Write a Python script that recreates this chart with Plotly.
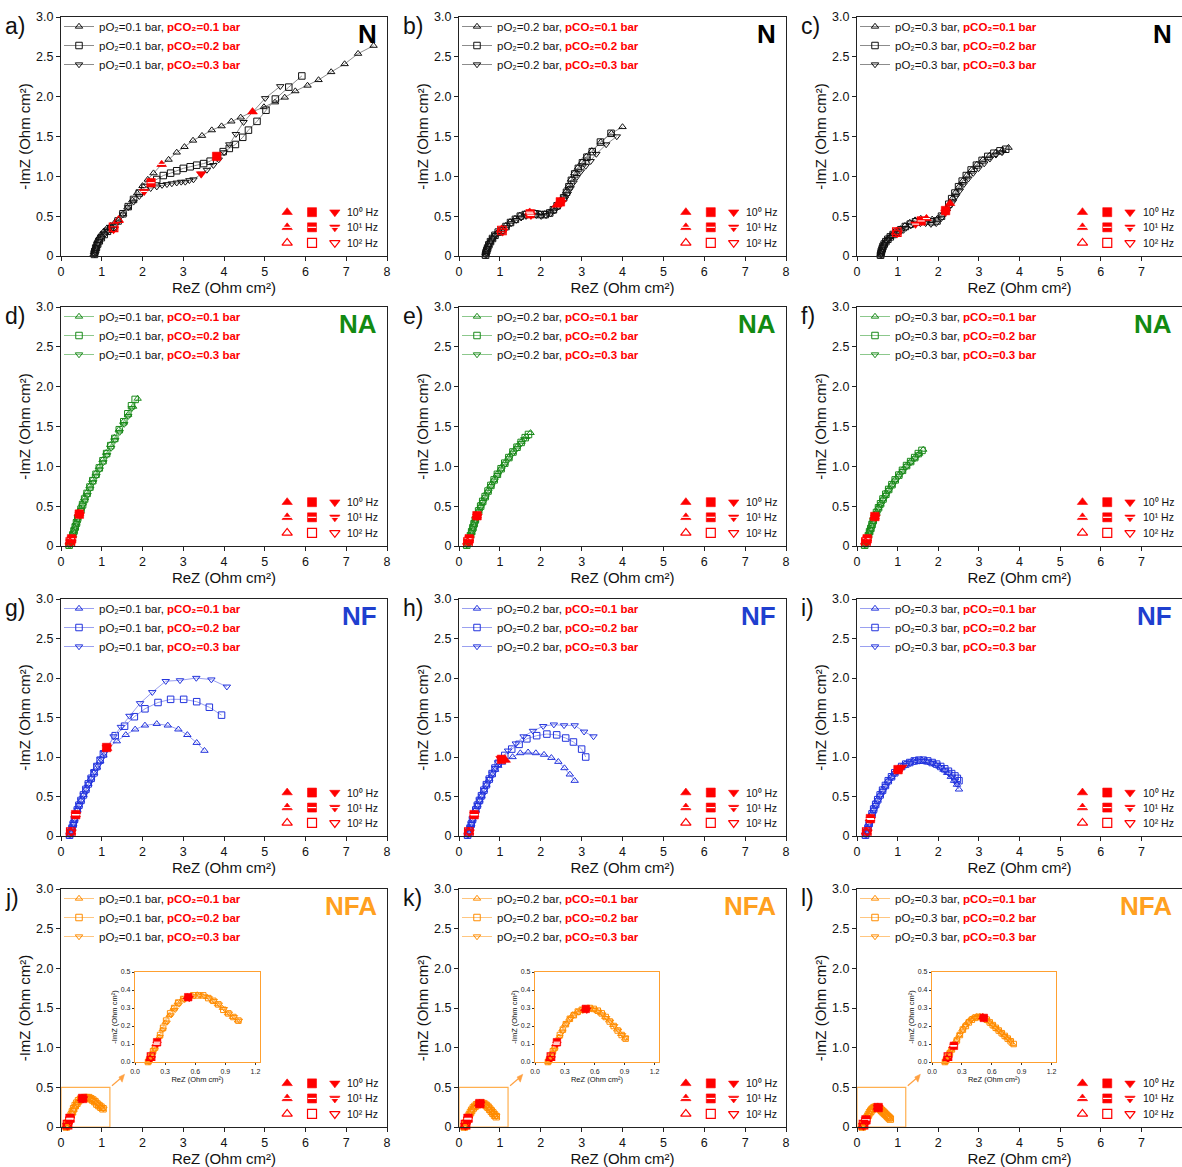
import plotly.graph_objects as go

# ------------------------------------------------------------------
# Nyquist data (ReZ, -ImZ in Ohm cm2).  Series T/S/D = pCO2 0.1/0.2/0.3 bar.
# *_HZ hold the point indices measured at 10^0, 10^1 and 10^2 Hz.
# ------------------------------------------------------------------
# ---- N, pO2 = 0.1 bar ----
N1_T_RE = [0.80, 0.81, 0.82, 0.84, 0.86, 0.89, 0.93, 0.98, 1.05, 1.13, 1.22, 1.32, 1.41, 1.52, 1.63, 1.75, 1.87, 2.00, 2.13, 2.27, 2.47, 2.64, 2.84, 3.03, 3.24, 3.46, 3.70, 3.94, 4.18, 4.41, 4.70, 4.98, 5.25, 5.49, 5.75, 6.05, 6.32, 6.63, 6.96, 7.29, 7.67]
N1_T_IM = [0.02, 0.05, 0.08, 0.11, 0.15, 0.19, 0.23, 0.27, 0.31, 0.35, 0.38, 0.42, 0.45, 0.53, 0.61, 0.70, 0.79, 0.88, 0.96, 1.04, 1.15, 1.21, 1.30, 1.37, 1.45, 1.51, 1.58, 1.63, 1.69, 1.74, 1.81, 1.87, 1.93, 1.99, 2.07, 2.14, 2.21, 2.31, 2.41, 2.54, 2.64]
N1_T_HZ = [30, 20, 12]
N1_S_RE = [0.82, 0.83, 0.85, 0.87, 0.90, 0.94, 0.99, 1.06, 1.14, 1.22, 1.29, 1.40, 1.52, 1.65, 1.78, 1.92, 2.06, 2.21, 2.35, 2.51, 2.69, 2.84, 3.00, 3.17, 3.33, 3.50, 3.66, 3.82, 3.98, 4.13, 4.28, 4.46, 4.60, 4.81, 5.03, 5.26, 5.59, 5.91]
N1_S_IM = [0.02, 0.05, 0.08, 0.11, 0.15, 0.19, 0.23, 0.27, 0.31, 0.34, 0.36, 0.44, 0.53, 0.62, 0.71, 0.79, 0.86, 0.92, 0.96, 1.01, 1.04, 1.07, 1.10, 1.12, 1.14, 1.16, 1.19, 1.25, 1.31, 1.35, 1.40, 1.49, 1.58, 1.69, 1.83, 1.97, 2.12, 2.26]
N1_S_HZ = [27, 17, 10]
N1_D_RE = [0.83, 0.84, 0.86, 0.88, 0.91, 0.95, 1.00, 1.07, 1.15, 1.22, 1.29, 1.40, 1.52, 1.65, 1.78, 1.92, 2.04, 2.20, 2.35, 2.48, 2.60, 2.72, 2.84, 2.95, 3.05, 3.15, 3.25, 3.44, 3.58, 3.74, 3.87, 4.00, 4.13, 4.29, 4.48, 5.01, 5.38]
N1_D_IM = [0.02, 0.05, 0.08, 0.11, 0.15, 0.19, 0.23, 0.27, 0.31, 0.33, 0.34, 0.43, 0.52, 0.61, 0.68, 0.75, 0.81, 0.85, 0.87, 0.89, 0.90, 0.91, 0.92, 0.93, 0.93, 0.95, 0.96, 1.03, 1.08, 1.14, 1.21, 1.30, 1.40, 1.53, 1.68, 1.98, 2.13]
N1_D_HZ = [27, 16, 10]

# ---- N, pO2 = 0.2 bar ----
N2_T_RE = [0.64, 0.65, 0.67, 0.69, 0.72, 0.76, 0.81, 0.87, 0.95, 1.04, 1.14, 1.25, 1.37, 1.49, 1.61, 1.73, 1.86, 1.98, 2.10, 2.21, 2.30, 2.39, 2.47, 2.55, 2.62, 2.68, 2.74, 2.82, 2.91, 3.01, 3.12, 3.25, 3.47, 3.73, 4.00]
N2_T_IM = [0.01, 0.04, 0.07, 0.10, 0.14, 0.18, 0.22, 0.26, 0.30, 0.33, 0.38, 0.43, 0.47, 0.51, 0.53, 0.55, 0.54, 0.53, 0.53, 0.55, 0.59, 0.64, 0.69, 0.74, 0.81, 0.88, 0.96, 1.04, 1.11, 1.18, 1.25, 1.32, 1.43, 1.54, 1.62]
N2_T_HZ = [21, 15, 9]
N2_S_RE = [0.65, 0.66, 0.68, 0.70, 0.73, 0.77, 0.82, 0.88, 0.96, 1.05, 1.15, 1.26, 1.38, 1.50, 1.62, 1.74, 1.87, 1.99, 2.11, 2.22, 2.31, 2.40, 2.48, 2.56, 2.63, 2.69, 2.75, 2.83, 2.92, 3.02, 3.13, 3.26, 3.46, 3.72]
N2_S_IM = [0.01, 0.04, 0.07, 0.10, 0.14, 0.18, 0.22, 0.26, 0.30, 0.32, 0.37, 0.42, 0.46, 0.50, 0.52, 0.53, 0.53, 0.52, 0.52, 0.54, 0.58, 0.63, 0.68, 0.73, 0.80, 0.87, 0.95, 1.03, 1.10, 1.17, 1.24, 1.31, 1.43, 1.54]
N2_S_HZ = [22, 15, 9]
N2_D_RE = [0.66, 0.67, 0.69, 0.71, 0.74, 0.78, 0.83, 0.89, 0.97, 1.07, 1.17, 1.28, 1.40, 1.52, 1.64, 1.76, 1.89, 2.01, 2.13, 2.24, 2.34, 2.43, 2.51, 2.59, 2.66, 2.73, 2.80, 2.88, 2.98, 3.10, 3.22, 3.36, 3.60, 3.86]
N2_D_IM = [0.01, 0.04, 0.07, 0.10, 0.14, 0.18, 0.22, 0.26, 0.29, 0.31, 0.36, 0.41, 0.45, 0.48, 0.50, 0.51, 0.51, 0.50, 0.51, 0.53, 0.57, 0.62, 0.67, 0.72, 0.78, 0.85, 0.92, 0.99, 1.06, 1.13, 1.19, 1.28, 1.40, 1.50]
N2_D_HZ = [22, 15, 9]

# ---- N, pO2 = 0.3 bar ----
N3_T_RE = [0.57, 0.58, 0.59, 0.61, 0.63, 0.66, 0.70, 0.75, 0.81, 0.88, 0.97, 1.07, 1.18, 1.30, 1.43, 1.57, 1.71, 1.85, 1.98, 2.10, 2.21, 2.29, 2.36, 2.43, 2.51, 2.60, 2.70, 2.82, 2.95, 3.10, 3.26, 3.42, 3.58, 3.73]
N3_T_IM = [0.01, 0.03, 0.06, 0.09, 0.12, 0.15, 0.18, 0.21, 0.24, 0.27, 0.30, 0.34, 0.38, 0.42, 0.45, 0.47, 0.47, 0.46, 0.47, 0.52, 0.59, 0.66, 0.73, 0.80, 0.87, 0.94, 1.01, 1.08, 1.15, 1.21, 1.26, 1.30, 1.33, 1.36]
N3_T_HZ = [21, 16, 10]
N3_S_RE = [0.58, 0.59, 0.60, 0.62, 0.64, 0.67, 0.71, 0.76, 0.82, 0.89, 0.98, 1.08, 1.19, 1.31, 1.44, 1.58, 1.71, 1.84, 1.97, 2.08, 2.18, 2.26, 2.33, 2.41, 2.50, 2.59, 2.69, 2.81, 2.94, 3.08, 3.22, 3.37, 3.52, 3.66]
N3_S_IM = [0.01, 0.03, 0.06, 0.09, 0.12, 0.15, 0.18, 0.21, 0.24, 0.27, 0.30, 0.33, 0.37, 0.40, 0.43, 0.44, 0.44, 0.43, 0.44, 0.50, 0.57, 0.65, 0.72, 0.79, 0.87, 0.94, 1.01, 1.08, 1.14, 1.20, 1.25, 1.29, 1.32, 1.34]
N3_S_HZ = [20, 15, 10]
N3_D_RE = [0.59, 0.60, 0.61, 0.63, 0.65, 0.68, 0.72, 0.77, 0.83, 0.90, 0.99, 1.09, 1.20, 1.32, 1.44, 1.56, 1.69, 1.82, 1.95, 2.07, 2.18, 2.28, 2.36, 2.44, 2.53, 2.63, 2.74, 2.86, 2.99, 3.13, 3.27, 3.42, 3.57]
N3_D_IM = [0.01, 0.03, 0.06, 0.09, 0.12, 0.15, 0.18, 0.21, 0.24, 0.27, 0.29, 0.32, 0.35, 0.38, 0.40, 0.41, 0.41, 0.40, 0.41, 0.47, 0.55, 0.62, 0.68, 0.75, 0.82, 0.90, 0.97, 1.04, 1.10, 1.16, 1.22, 1.27, 1.30]
N3_D_HZ = [20, 14, 10]

# ---- NA, pO2 = 0.1 bar ----
NA1_T_RE = [0.19, 0.22, 0.25, 0.28, 0.31, 0.34, 0.37, 0.40, 0.44, 0.48, 0.52, 0.57, 0.63, 0.70, 0.77, 0.85, 0.93, 1.02, 1.11, 1.21, 1.31, 1.42, 1.53, 1.65, 1.77, 1.88]
NA1_T_IM = [0.01, 0.05, 0.09, 0.14, 0.19, 0.24, 0.29, 0.35, 0.41, 0.47, 0.53, 0.60, 0.67, 0.75, 0.83, 0.91, 0.99, 1.08, 1.17, 1.27, 1.36, 1.46, 1.56, 1.65, 1.75, 1.85]
NA1_T_HZ = [8, 2, 1]
NA1_S_RE = [0.20, 0.23, 0.26, 0.29, 0.32, 0.35, 0.38, 0.41, 0.45, 0.49, 0.53, 0.58, 0.64, 0.71, 0.78, 0.86, 0.94, 1.03, 1.12, 1.22, 1.32, 1.43, 1.54, 1.64, 1.73, 1.82]
NA1_S_IM = [0.01, 0.05, 0.09, 0.14, 0.19, 0.24, 0.29, 0.35, 0.40, 0.46, 0.52, 0.59, 0.66, 0.74, 0.82, 0.90, 0.98, 1.07, 1.16, 1.26, 1.35, 1.46, 1.56, 1.66, 1.76, 1.84]
NA1_S_HZ = [8, 2, 1]
NA1_D_RE = [0.21, 0.24, 0.27, 0.30, 0.33, 0.36, 0.39, 0.42, 0.46, 0.50, 0.54, 0.59, 0.65, 0.72, 0.79, 0.87, 0.95, 1.04, 1.13, 1.23, 1.33, 1.44, 1.55, 1.65, 1.74]
NA1_D_IM = [0.01, 0.05, 0.09, 0.13, 0.18, 0.23, 0.28, 0.34, 0.39, 0.45, 0.51, 0.57, 0.64, 0.72, 0.80, 0.88, 0.96, 1.05, 1.14, 1.23, 1.33, 1.43, 1.53, 1.63, 1.73]
NA1_D_HZ = [8, 2, 1]

# ---- NA, pO2 = 0.2 bar ----
NA2_T_RE = [0.18, 0.21, 0.24, 0.27, 0.30, 0.33, 0.36, 0.39, 0.43, 0.47, 0.52, 0.57, 0.63, 0.70, 0.77, 0.85, 0.93, 1.02, 1.11, 1.21, 1.31, 1.42, 1.53, 1.64, 1.75]
NA2_T_IM = [0.01, 0.05, 0.09, 0.13, 0.18, 0.23, 0.28, 0.33, 0.38, 0.44, 0.50, 0.56, 0.62, 0.69, 0.76, 0.83, 0.90, 0.97, 1.04, 1.11, 1.18, 1.25, 1.31, 1.37, 1.42]
NA2_T_HZ = [8, 2, 1]
NA2_S_RE = [0.19, 0.22, 0.25, 0.28, 0.31, 0.34, 0.37, 0.40, 0.44, 0.48, 0.53, 0.58, 0.64, 0.71, 0.78, 0.86, 0.94, 1.03, 1.12, 1.22, 1.32, 1.42, 1.52, 1.62, 1.70]
NA2_S_IM = [0.01, 0.05, 0.09, 0.13, 0.18, 0.23, 0.28, 0.33, 0.38, 0.44, 0.50, 0.56, 0.62, 0.69, 0.76, 0.83, 0.90, 0.97, 1.04, 1.11, 1.18, 1.24, 1.30, 1.36, 1.40]
NA2_S_HZ = [8, 2, 1]
NA2_D_RE = [0.20, 0.23, 0.26, 0.29, 0.32, 0.35, 0.38, 0.41, 0.45, 0.49, 0.54, 0.59, 0.65, 0.72, 0.79, 0.87, 0.95, 1.04, 1.13, 1.23, 1.33, 1.43, 1.52, 1.60]
NA2_D_IM = [0.01, 0.05, 0.09, 0.13, 0.17, 0.22, 0.27, 0.32, 0.37, 0.43, 0.49, 0.55, 0.61, 0.68, 0.75, 0.82, 0.89, 0.96, 1.03, 1.10, 1.17, 1.23, 1.29, 1.34]
NA2_D_HZ = [8, 2, 1]

# ---- NA, pO2 = 0.3 bar ----
NA3_T_RE = [0.18, 0.21, 0.24, 0.27, 0.30, 0.33, 0.36, 0.39, 0.43, 0.47, 0.52, 0.57, 0.63, 0.70, 0.77, 0.85, 0.93, 1.02, 1.11, 1.21, 1.31, 1.42, 1.53, 1.63]
NA3_T_IM = [0.01, 0.05, 0.09, 0.13, 0.18, 0.22, 0.27, 0.32, 0.37, 0.42, 0.48, 0.53, 0.59, 0.65, 0.71, 0.77, 0.83, 0.89, 0.95, 1.01, 1.06, 1.11, 1.16, 1.21]
NA3_T_HZ = [8, 2, 1]
NA3_S_RE = [0.19, 0.22, 0.25, 0.28, 0.31, 0.34, 0.37, 0.40, 0.44, 0.48, 0.53, 0.58, 0.64, 0.71, 0.78, 0.86, 0.94, 1.03, 1.12, 1.22, 1.32, 1.42, 1.51, 1.60]
NA3_S_IM = [0.01, 0.05, 0.09, 0.13, 0.18, 0.22, 0.27, 0.32, 0.37, 0.42, 0.48, 0.53, 0.59, 0.65, 0.71, 0.77, 0.83, 0.89, 0.95, 1.01, 1.06, 1.11, 1.16, 1.20]
NA3_S_HZ = [8, 2, 1]
NA3_D_RE = [0.20, 0.23, 0.26, 0.29, 0.32, 0.35, 0.38, 0.41, 0.45, 0.49, 0.54, 0.59, 0.65, 0.72, 0.79, 0.87, 0.95, 1.04, 1.13, 1.23, 1.33, 1.43, 1.52]
NA3_D_IM = [0.01, 0.05, 0.09, 0.13, 0.17, 0.21, 0.26, 0.31, 0.36, 0.41, 0.47, 0.52, 0.58, 0.64, 0.70, 0.76, 0.82, 0.88, 0.94, 1.00, 1.05, 1.10, 1.15]
NA3_D_HZ = [8, 2, 1]

# ---- NF, pO2 = 0.1 bar ----
NF1_T_RE = [0.21, 0.24, 0.27, 0.30, 0.33, 0.36, 0.40, 0.44, 0.49, 0.55, 0.61, 0.67, 0.74, 0.81, 0.88, 0.96, 1.04, 1.13, 1.37, 1.59, 1.82, 2.06, 2.35, 2.62, 2.88, 3.10, 3.33, 3.52]
NF1_T_IM = [0.01, 0.05, 0.10, 0.15, 0.21, 0.27, 0.33, 0.39, 0.45, 0.52, 0.59, 0.66, 0.73, 0.80, 0.87, 0.95, 1.02, 1.11, 1.20, 1.28, 1.35, 1.40, 1.42, 1.40, 1.35, 1.28, 1.18, 1.08]
NF1_T_HZ = [17, 5, 1]
NF1_S_RE = [0.21, 0.24, 0.27, 0.30, 0.33, 0.36, 0.40, 0.44, 0.49, 0.55, 0.61, 0.67, 0.74, 0.81, 0.88, 0.96, 1.04, 1.12, 1.33, 1.56, 1.80, 2.06, 2.38, 2.69, 3.01, 3.33, 3.64, 3.94]
NF1_S_IM = [0.01, 0.05, 0.10, 0.15, 0.21, 0.27, 0.33, 0.39, 0.45, 0.52, 0.59, 0.66, 0.73, 0.80, 0.88, 0.96, 1.04, 1.12, 1.27, 1.39, 1.51, 1.61, 1.69, 1.73, 1.73, 1.70, 1.63, 1.53]
NF1_S_HZ = [17, 5, 1]
NF1_D_RE = [0.22, 0.25, 0.28, 0.31, 0.34, 0.37, 0.41, 0.45, 0.50, 0.56, 0.62, 0.68, 0.75, 0.82, 0.90, 0.98, 1.06, 1.13, 1.29, 1.47, 1.68, 1.94, 2.24, 2.57, 2.92, 3.32, 3.69, 4.07]
NF1_D_IM = [0.01, 0.05, 0.10, 0.15, 0.21, 0.27, 0.33, 0.39, 0.45, 0.52, 0.59, 0.66, 0.73, 0.81, 0.89, 0.97, 1.05, 1.12, 1.26, 1.38, 1.52, 1.68, 1.82, 1.96, 1.97, 2.00, 1.98, 1.89]
NF1_D_HZ = [17, 5, 1]

# ---- NF, pO2 = 0.2 bar ----
NF2_T_RE = [0.21, 0.24, 0.27, 0.30, 0.33, 0.37, 0.41, 0.45, 0.50, 0.55, 0.61, 0.67, 0.74, 0.81, 0.88, 0.96, 1.05, 1.14, 1.31, 1.50, 1.69, 1.88, 2.08, 2.26, 2.43, 2.58, 2.71, 2.83]
NF2_T_IM = [0.01, 0.05, 0.10, 0.15, 0.21, 0.27, 0.33, 0.39, 0.45, 0.51, 0.58, 0.65, 0.72, 0.78, 0.84, 0.89, 0.93, 0.96, 1.00, 1.05, 1.06, 1.05, 1.03, 0.99, 0.94, 0.86, 0.78, 0.70]
NF2_T_HZ = [17, 5, 1]
NF2_S_RE = [0.21, 0.24, 0.27, 0.30, 0.33, 0.37, 0.41, 0.45, 0.50, 0.55, 0.61, 0.67, 0.74, 0.81, 0.88, 0.96, 1.04, 1.12, 1.29, 1.47, 1.66, 1.90, 2.15, 2.39, 2.61, 2.80, 3.00, 3.10]
NF2_S_IM = [0.01, 0.05, 0.10, 0.15, 0.21, 0.27, 0.33, 0.39, 0.45, 0.51, 0.58, 0.65, 0.72, 0.79, 0.86, 0.92, 0.97, 1.02, 1.10, 1.16, 1.23, 1.27, 1.29, 1.28, 1.24, 1.19, 1.10, 1.00]
NF2_S_HZ = [16, 5, 1]
NF2_D_RE = [0.22, 0.25, 0.28, 0.31, 0.34, 0.38, 0.42, 0.46, 0.51, 0.56, 0.62, 0.68, 0.75, 0.82, 0.89, 0.96, 1.02, 1.20, 1.39, 1.58, 1.81, 2.06, 2.32, 2.57, 2.83, 3.06, 3.29]
NF2_D_IM = [0.01, 0.05, 0.10, 0.15, 0.21, 0.27, 0.33, 0.39, 0.45, 0.51, 0.58, 0.65, 0.72, 0.79, 0.86, 0.93, 0.98, 1.08, 1.17, 1.26, 1.33, 1.39, 1.41, 1.40, 1.40, 1.32, 1.26]
NF2_D_HZ = [16, 5, 1]

# ---- NF, pO2 = 0.3 bar ----
NF3_T_RE = [0.20, 0.23, 0.26, 0.29, 0.32, 0.36, 0.40, 0.45, 0.50, 0.56, 0.62, 0.69, 0.76, 0.84, 0.92, 1.00, 1.09, 1.18, 1.28, 1.38, 1.49, 1.60, 1.71, 1.82, 1.93, 2.03, 2.13, 2.22, 2.31, 2.39, 2.46, 2.51]
NF3_T_IM = [0.01, 0.05, 0.10, 0.16, 0.22, 0.28, 0.34, 0.40, 0.46, 0.52, 0.58, 0.64, 0.70, 0.75, 0.80, 0.84, 0.88, 0.91, 0.93, 0.95, 0.96, 0.96, 0.95, 0.93, 0.91, 0.88, 0.84, 0.80, 0.75, 0.70, 0.65, 0.59]
NF3_T_HZ = [15, 4, 1]
NF3_S_RE = [0.21, 0.24, 0.27, 0.30, 0.33, 0.37, 0.41, 0.46, 0.51, 0.57, 0.63, 0.70, 0.77, 0.85, 0.93, 1.01, 1.10, 1.20, 1.30, 1.41, 1.52, 1.63, 1.74, 1.85, 1.96, 2.06, 2.16, 2.25, 2.33, 2.41, 2.47, 2.51]
NF3_S_IM = [0.01, 0.05, 0.10, 0.16, 0.22, 0.28, 0.34, 0.40, 0.46, 0.52, 0.58, 0.64, 0.70, 0.75, 0.80, 0.84, 0.88, 0.91, 0.93, 0.95, 0.96, 0.96, 0.95, 0.93, 0.91, 0.88, 0.85, 0.82, 0.79, 0.76, 0.73, 0.70]
NF3_S_HZ = [15, 4, 1]
NF3_D_RE = [0.22, 0.25, 0.28, 0.31, 0.34, 0.38, 0.42, 0.47, 0.52, 0.58, 0.64, 0.71, 0.78, 0.86, 0.94, 1.02, 1.11, 1.21, 1.31, 1.42, 1.53, 1.64, 1.75, 1.86, 1.97, 2.07, 2.17, 2.26, 2.34, 2.41, 2.46]
NF3_D_IM = [0.01, 0.05, 0.10, 0.15, 0.21, 0.27, 0.33, 0.39, 0.45, 0.51, 0.57, 0.63, 0.69, 0.74, 0.79, 0.83, 0.87, 0.90, 0.92, 0.94, 0.95, 0.95, 0.94, 0.92, 0.90, 0.87, 0.83, 0.79, 0.75, 0.70, 0.66]
NF3_D_HZ = [16, 4, 1]

# ---- NFA, pO2 = 0.1 bar ----
NFA1_T_RE = [0.13, 0.14, 0.15, 0.17, 0.19, 0.21, 0.24, 0.27, 0.30, 0.34, 0.38, 0.42, 0.47, 0.52, 0.57, 0.62, 0.67, 0.72, 0.77, 0.82, 0.87, 0.92, 0.97, 1.02]
NFA1_T_IM = [0.00, 0.01, 0.02, 0.05, 0.08, 0.10, 0.14, 0.18, 0.22, 0.26, 0.30, 0.33, 0.35, 0.36, 0.37, 0.375, 0.37, 0.36, 0.34, 0.32, 0.30, 0.27, 0.25, 0.23]
NFA1_T_HZ = [13, 5, 2]
NFA1_S_RE = [0.13, 0.14, 0.16, 0.18, 0.20, 0.22, 0.25, 0.28, 0.31, 0.35, 0.39, 0.43, 0.48, 0.53, 0.58, 0.63, 0.68, 0.73, 0.78, 0.83, 0.88, 0.93, 0.98, 1.03]
NFA1_S_IM = [0.00, 0.01, 0.03, 0.06, 0.08, 0.11, 0.15, 0.19, 0.23, 0.27, 0.30, 0.33, 0.35, 0.36, 0.37, 0.37, 0.37, 0.355, 0.34, 0.32, 0.29, 0.27, 0.25, 0.23]
NFA1_S_HZ = [13, 5, 2]
NFA1_D_RE = [0.14, 0.15, 0.16, 0.18, 0.20, 0.22, 0.25, 0.28, 0.32, 0.36, 0.40, 0.44, 0.49, 0.54, 0.59, 0.64, 0.69, 0.74, 0.79, 0.84, 0.89, 0.94, 0.99, 1.04]
NFA1_D_IM = [0.00, 0.01, 0.02, 0.05, 0.07, 0.10, 0.14, 0.18, 0.22, 0.26, 0.29, 0.32, 0.345, 0.355, 0.365, 0.37, 0.365, 0.355, 0.34, 0.32, 0.295, 0.27, 0.25, 0.23]
NFA1_D_HZ = [13, 5, 2]

# ---- NFA, pO2 = 0.2 bar ----
NFA2_T_RE = [0.13, 0.14, 0.15, 0.17, 0.19, 0.21, 0.24, 0.27, 0.30, 0.34, 0.38, 0.42, 0.46, 0.50, 0.54, 0.58, 0.62, 0.66, 0.70, 0.74, 0.78, 0.82, 0.86, 0.90]
NFA2_T_IM = [0.00, 0.01, 0.02, 0.05, 0.08, 0.10, 0.14, 0.18, 0.21, 0.24, 0.265, 0.28, 0.29, 0.295, 0.30, 0.295, 0.285, 0.27, 0.25, 0.23, 0.205, 0.18, 0.155, 0.13]
NFA2_T_HZ = [13, 5, 2]
NFA2_S_RE = [0.13, 0.14, 0.16, 0.18, 0.20, 0.22, 0.25, 0.28, 0.31, 0.35, 0.39, 0.43, 0.47, 0.51, 0.55, 0.59, 0.63, 0.67, 0.71, 0.75, 0.79, 0.83, 0.87, 0.91]
NFA2_S_IM = [0.00, 0.01, 0.03, 0.06, 0.08, 0.11, 0.15, 0.18, 0.21, 0.24, 0.26, 0.28, 0.29, 0.295, 0.30, 0.295, 0.285, 0.27, 0.25, 0.225, 0.20, 0.175, 0.15, 0.13]
NFA2_S_HZ = [13, 5, 2]
NFA2_D_RE = [0.14, 0.15, 0.16, 0.18, 0.20, 0.22, 0.25, 0.28, 0.32, 0.36, 0.40, 0.44, 0.48, 0.52, 0.56, 0.60, 0.64, 0.68, 0.72, 0.76, 0.80, 0.84, 0.88, 0.91]
NFA2_D_IM = [0.00, 0.01, 0.02, 0.05, 0.07, 0.10, 0.14, 0.17, 0.21, 0.24, 0.26, 0.275, 0.285, 0.29, 0.295, 0.29, 0.28, 0.265, 0.245, 0.225, 0.20, 0.175, 0.15, 0.135]
NFA2_D_HZ = [13, 5, 2]

# ---- NFA, pO2 = 0.3 bar ----
NFA3_T_RE = [0.13, 0.14, 0.15, 0.17, 0.19, 0.21, 0.24, 0.27, 0.30, 0.33, 0.36, 0.39, 0.42, 0.45, 0.48, 0.51, 0.54, 0.57, 0.60, 0.63, 0.66, 0.69, 0.72, 0.75, 0.78, 0.81]
NFA3_T_IM = [0.00, 0.01, 0.02, 0.05, 0.07, 0.09, 0.12, 0.15, 0.18, 0.205, 0.225, 0.24, 0.25, 0.255, 0.255, 0.25, 0.24, 0.225, 0.21, 0.195, 0.18, 0.165, 0.15, 0.135, 0.12, 0.10]
NFA3_T_HZ = [15, 5, 2]
NFA3_S_RE = [0.13, 0.14, 0.16, 0.18, 0.20, 0.22, 0.25, 0.28, 0.31, 0.34, 0.37, 0.40, 0.43, 0.46, 0.49, 0.52, 0.55, 0.58, 0.61, 0.64, 0.67, 0.70, 0.73, 0.76, 0.79, 0.82]
NFA3_S_IM = [0.00, 0.01, 0.03, 0.05, 0.07, 0.09, 0.12, 0.15, 0.18, 0.20, 0.22, 0.235, 0.245, 0.25, 0.25, 0.245, 0.235, 0.22, 0.205, 0.19, 0.175, 0.16, 0.145, 0.13, 0.115, 0.10]
NFA3_S_HZ = [15, 5, 2]
NFA3_D_RE = [0.14, 0.15, 0.16, 0.18, 0.20, 0.22, 0.25, 0.28, 0.31, 0.34, 0.37, 0.40, 0.43, 0.46, 0.49, 0.52, 0.55, 0.58, 0.61, 0.64, 0.67, 0.70, 0.73, 0.76, 0.79]
NFA3_D_IM = [0.00, 0.01, 0.02, 0.05, 0.07, 0.09, 0.12, 0.15, 0.175, 0.20, 0.22, 0.235, 0.245, 0.25, 0.25, 0.245, 0.235, 0.22, 0.205, 0.19, 0.175, 0.16, 0.145, 0.13, 0.115]
NFA3_D_HZ = [15, 5, 2]

PO2_LEVELS = ["0.1", "0.2", "0.3"]
CO2_LEVELS = ["0.1", "0.2", "0.3"]
HZ_LABELS = ["10\u2070 Hz", "10\u00b9 Hz", "10\u00b2 Hz"]
RE_TICKS = [0, 1, 2, 3, 4, 5, 6, 7, 8]
IM_TICKS = [0, 0.5, 1.0, 1.5, 2.0, 2.5, 3.0]
IM_TICKTEXT = ["0", "0.5", "1.0", "1.5", "2.0", "2.5", "3.0"]
INSET_RE_TICKS = [0.0, 0.3, 0.6, 0.9, 1.2]
INSET_IM_TICKS = [0.0, 0.1, 0.2, 0.3, 0.4, 0.5]
ZOOM_BOX = (1.2, 0.5)   # region magnified in the NFA insets
RE_TITLE = "ReZ (Ohm cm\u00b2)"
IM_TITLE = "-ImZ (Ohm cm\u00b2)"

ROWS = [
    dict(name="N", mk="#111111", ln="#8c8c8c", tc="#000000",
         series=[[(N1_T_RE, N1_T_IM, N1_T_HZ), (N1_S_RE, N1_S_IM, N1_S_HZ), (N1_D_RE, N1_D_IM, N1_D_HZ)],
                 [(N2_T_RE, N2_T_IM, N2_T_HZ), (N2_S_RE, N2_S_IM, N2_S_HZ), (N2_D_RE, N2_D_IM, N2_D_HZ)],
                 [(N3_T_RE, N3_T_IM, N3_T_HZ), (N3_S_RE, N3_S_IM, N3_S_HZ), (N3_D_RE, N3_D_IM, N3_D_HZ)]]),
    dict(name="NA", mk="#1a8a1a", ln="#8cc88c", tc="#128a12",
         series=[[(NA1_T_RE, NA1_T_IM, NA1_T_HZ), (NA1_S_RE, NA1_S_IM, NA1_S_HZ), (NA1_D_RE, NA1_D_IM, NA1_D_HZ)],
                 [(NA2_T_RE, NA2_T_IM, NA2_T_HZ), (NA2_S_RE, NA2_S_IM, NA2_S_HZ), (NA2_D_RE, NA2_D_IM, NA2_D_HZ)],
                 [(NA3_T_RE, NA3_T_IM, NA3_T_HZ), (NA3_S_RE, NA3_S_IM, NA3_S_HZ), (NA3_D_RE, NA3_D_IM, NA3_D_HZ)]]),
    dict(name="NF", mk="#2233dd", ln="#9aa0f0", tc="#1f3fcf",
         series=[[(NF1_T_RE, NF1_T_IM, NF1_T_HZ), (NF1_S_RE, NF1_S_IM, NF1_S_HZ), (NF1_D_RE, NF1_D_IM, NF1_D_HZ)],
                 [(NF2_T_RE, NF2_T_IM, NF2_T_HZ), (NF2_S_RE, NF2_S_IM, NF2_S_HZ), (NF2_D_RE, NF2_D_IM, NF2_D_HZ)],
                 [(NF3_T_RE, NF3_T_IM, NF3_T_HZ), (NF3_S_RE, NF3_S_IM, NF3_S_HZ), (NF3_D_RE, NF3_D_IM, NF3_D_HZ)]]),
    dict(name="NFA", mk="#ff8c00", ln="#ffc680", tc="#ffa020",
         series=[[(NFA1_T_RE, NFA1_T_IM, NFA1_T_HZ), (NFA1_S_RE, NFA1_S_IM, NFA1_S_HZ), (NFA1_D_RE, NFA1_D_IM, NFA1_D_HZ)],
                 [(NFA2_T_RE, NFA2_T_IM, NFA2_T_HZ), (NFA2_S_RE, NFA2_S_IM, NFA2_S_HZ), (NFA2_D_RE, NFA2_D_IM, NFA2_D_HZ)],
                 [(NFA3_T_RE, NFA3_T_IM, NFA3_T_HZ), (NFA3_S_RE, NFA3_S_IM, NFA3_S_HZ), (NFA3_D_RE, NFA3_D_IM, NFA3_D_HZ)]]),
]

# ------------------------------------------------------------------
# layout geometry (pixels of the 1182 x 1167 page)
# ------------------------------------------------------------------
W, H = 1182, 1167
COL_PX = [(61, 387), (459, 786), (857, 1182)]
ROW_PX = [(17, 256), (307, 546), (599, 836), (889, 1127)]
INSET_COL_PX = [(135, 260), (535, 659), (932, 1056)]
INSET_ROW_PX = (972, 1062)
KEY_RE = [5.55, 6.16, 6.72]      # frequency key columns (ReZ units)
KEY_IM = [0.55, 0.36, 0.165]     # frequency key rows (-ImZ units)
KEY_LABEL_RE = 6.98

SYMBOLS = ["triangle-up", "square", "triangle-down"]
RED = "#ff0000"
FONT = "Liberation Sans, Arial, sans-serif"


def px_x(v):
    return v / W


def px_y(v):
    return 1 - v / H


def suffix(n):
    return "" if n == 1 else str(n)


fig = go.Figure()
layout = dict(
    width=W, height=H, margin=dict(l=0, r=0, t=0, b=0),
    paper_bgcolor="white", plot_bgcolor="white",
    font=dict(family=FONT, color="#111111", size=12),
    template="none", showlegend=True,
)
annotations = []
shapes = []


def add_freq_marks(series, xr, yr, size, legend):
    """Red markers at 10^0 (filled), 10^1 (half) and 10^2 Hz (open)."""
    for f in range(3):
        xs = [s[0][s[2][f]] for s in series]
        ys = [s[1][s[2][f]] for s in series]
        if f == 2:
            syms = [sy + "-open" for sy in SYMBOLS]
            mk = dict(symbol=syms, size=size, color=RED, line=dict(width=1.2, color=RED))
        else:
            mk = dict(symbol=SYMBOLS, size=size, color=RED, line=dict(width=0.6, color=RED))
        fig.add_trace(go.Scatter(x=xs, y=ys, mode="markers", marker=mk, xaxis=xr, yaxis=yr,
                                 showlegend=False, legend=legend, cliponaxis=False, hoverinfo="skip"))
        if f == 1:
            fig.add_trace(go.Scatter(x=xs, y=ys, mode="markers",
                                     marker=dict(symbol="line-ew", size=size * 0.6,
                                                 line=dict(width=1.1, color="white")),
                                     xaxis=xr, yaxis=yr, showlegend=False, legend=legend,
                                     cliponaxis=False, hoverinfo="skip"))


for r, row in enumerate(ROWS):
    for c in range(3):
        n = r * 3 + c + 1
        sx = suffix(n)
        xr, yr = "x" + sx, "y" + sx
        legend = "legend" + sx
        x0, x1 = COL_PX[c]
        y0, y1 = ROW_PX[r]
        series = row["series"][c]

        # data series
        for k, (re, im, hz) in enumerate(series):
            name = (f"pO\u2082={PO2_LEVELS[c]} bar, "
                    f"<span style=\"color:{RED}\"><b>pCO\u2082={CO2_LEVELS[k]} bar</b></span>")
            fig.add_trace(go.Scatter(
                x=re, y=im, mode="lines+markers", name=name, legend=legend,
                xaxis=xr, yaxis=yr, cliponaxis=False,
                line=dict(color=row["ln"], width=1),
                marker=dict(symbol=SYMBOLS[k] + "-open", size=6.5, color=row["mk"],
                            line=dict(width=1, color=row["mk"])),
            ))
        add_freq_marks(series, xr, yr, 8.5, legend)

        # frequency key
        for f in range(3):
            if f == 2:
                mk = dict(symbol=[s + "-open" for s in SYMBOLS], size=9, color=RED,
                          line=dict(width=1.2, color=RED))
            else:
                mk = dict(symbol=SYMBOLS, size=9, color=RED, line=dict(width=0.6, color=RED))
            fig.add_trace(go.Scatter(x=KEY_RE, y=[KEY_IM[f]] * 3, mode="markers", marker=mk,
                                     xaxis=xr, yaxis=yr, showlegend=False, legend=legend,
                                     hoverinfo="skip"))
            if f == 1:
                fig.add_trace(go.Scatter(x=KEY_RE, y=[KEY_IM[f]] * 3, mode="markers",
                                         marker=dict(symbol="line-ew", size=6,
                                                     line=dict(width=1.2, color="white")),
                                         xaxis=xr, yaxis=yr, showlegend=False, legend=legend,
                                         hoverinfo="skip"))
            annotations.append(dict(text=HZ_LABELS[f], x=KEY_LABEL_RE, y=KEY_IM[f], xref=xr, yref=yr,
                                    xanchor="left", yanchor="middle", showarrow=False,
                                    font=dict(size=10.5, color="#111111")))

        axis_common = dict(showline=True, linecolor="#222222", linewidth=1.2, mirror=True,
                           ticks="outside", ticklen=4, tickwidth=1, tickcolor="#222222",
                           showgrid=False, zeroline=False, automargin=False,
                           tickfont=dict(size=12.5, color="#111111"))
        layout["xaxis" + sx] = dict(
            axis_common, domain=[px_x(x0), px_x(x1)], range=[0, 8], anchor=yr,
            tickvals=RE_TICKS, ticktext=[str(t) for t in RE_TICKS],
            title=dict(text=RE_TITLE, font=dict(size=15), standoff=3))
        layout["yaxis" + sx] = dict(
            axis_common, domain=[px_y(y1), px_y(y0)], range=[0, 3], anchor=xr,
            tickvals=IM_TICKS, ticktext=IM_TICKTEXT,
            title=dict(text=IM_TITLE, font=dict(size=15), standoff=1))

        layout[legend] = dict(x=px_x(x0 - 2), y=px_y(y0 - 5), xanchor="left", yanchor="top",
                              bgcolor="rgba(0,0,0,0)", borderwidth=0, tracegroupgap=0,
                              itemwidth=30, font=dict(size=11.5, color="#111111"))

        # panel letter and sample name
        annotations.append(dict(text=f"{'abcdefghijkl'[n - 1]})", x=px_x(x0 - 58), y=px_y(y0 + 9),
                                xref="paper", yref="paper", xanchor="left", yanchor="middle",
                                showarrow=False, font=dict(size=23, color="#111111")))
        annotations.append(dict(text=f"<b>{row['name']}</b>", x=px_x(x1 - 8), y=px_y(y0 + 17),
                                xref="paper", yref="paper", xanchor="right", yanchor="middle",
                                showarrow=False, font=dict(size=26, color=row["tc"])))

        if row["name"] == "NFA":
            # magnified region and pointer to the inset
            shapes.append(dict(type="rect", xref=xr, yref=yr, x0=0, y0=0,
                               x1=ZOOM_BOX[0], y1=ZOOM_BOX[1], layer="below",
                               line=dict(color="#ffb050", width=1.2)))
            shapes.append(dict(type="line", xref=xr, yref=yr, x0=1.25, y0=0.52, x1=1.50, y1=0.63,
                               line=dict(color="#ffa040", width=1.2)))
            shapes.append(dict(type="path", xref=xr, yref=yr,
                               path="M 1.56,0.665 L 1.42,0.63 L 1.50,0.565 Z",
                               fillcolor="#ffa040", line=dict(color="#ffa040", width=0.5)))

            ni = 12 + c + 1
            si = str(ni)
            ixr, iyr = "x" + si, "y" + si
            for k, (re, im, hz) in enumerate(series):
                fig.add_trace(go.Scatter(
                    x=re, y=im, mode="lines+markers", xaxis=ixr, yaxis=iyr, showlegend=False,
                    legend=legend, cliponaxis=False,
                    line=dict(color=row["ln"], width=0.8),
                    marker=dict(symbol=SYMBOLS[k] + "-open", size=5.5, color=row["mk"],
                                line=dict(width=1, color=row["mk"])),
                ))
            add_freq_marks(series, ixr, iyr, 7.5, legend)
            ix0, ix1 = INSET_COL_PX[c]
            iy0, iy1 = INSET_ROW_PX
            inset_axis = dict(showline=True, linecolor="#ffa030", linewidth=1.2, mirror=True,
                              ticks="outside", ticklen=2, tickwidth=0.8, tickcolor="#333333",
                              showgrid=False, zeroline=False, automargin=False,
                              tickfont=dict(size=7, color="#222222"))
            layout["xaxis" + si] = dict(
                inset_axis, domain=[px_x(ix0), px_x(ix1)], range=[0, 1.245], anchor=iyr,
                tickvals=INSET_RE_TICKS, ticktext=[f"{t:.1f}" for t in INSET_RE_TICKS],
                title=dict(text=RE_TITLE, font=dict(size=7.5), standoff=3))
            layout["yaxis" + si] = dict(
                inset_axis, domain=[px_y(iy1), px_y(iy0)], range=[0, 0.5], anchor=ixr,
                tickvals=INSET_IM_TICKS, ticktext=[f"{t:.1f}" for t in INSET_IM_TICKS],
                title=dict(text=IM_TITLE, font=dict(size=7.5), standoff=2))

layout["annotations"] = annotations
layout["shapes"] = shapes
fig.update_layout(**layout)
fig.write_html("out.html")
